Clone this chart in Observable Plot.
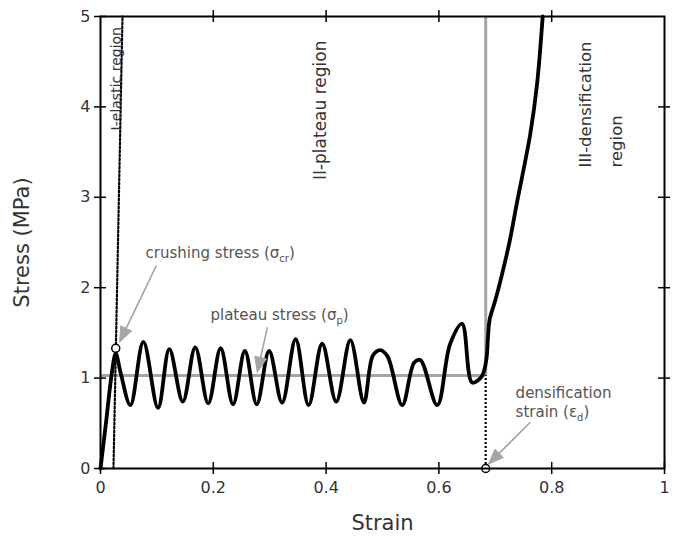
<!DOCTYPE html>
<html><head><meta charset="utf-8">
<script src="https://cdn.jsdelivr.net/npm/d3@7"></script>
<script src="https://cdn.jsdelivr.net/npm/@observablehq/plot@0.6"></script>
<style>body{margin:0;background:#fff}</style>
</head><body><div id="chart"></div>
<script>
// ---- data ----
const strain = [0.000, 0.010, 0.020, 0.027, 0.036, 0.053, 0.076, 0.102, 0.122, 0.146, 0.168, 0.191, 0.213, 0.235, 0.256, 0.277, 0.299, 0.322, 0.346, 0.369, 0.393, 0.418, 0.443, 0.467, 0.483, 0.496, 0.509, 0.535, 0.556, 0.567, 0.597, 0.620, 0.641, 0.659, 0.676, 0.684, 0.687, 0.690, 0.700, 0.712, 0.725, 0.739, 0.762, 0.774, 0.784];
const stress = [0.00, 0.52, 1.05, 1.27, 1.05, 0.70, 1.40, 0.67, 1.32, 0.74, 1.34, 0.72, 1.33, 0.71, 1.30, 0.71, 1.30, 0.73, 1.43, 0.70, 1.38, 0.74, 1.42, 0.73, 1.25, 1.31, 1.24, 0.70, 1.17, 1.20, 0.70, 1.38, 1.60, 0.95, 1.02, 1.20, 1.45, 1.65, 1.86, 2.15, 2.50, 2.96, 3.70, 4.25, 5.00];
const xTicks = [0, 0.2, 0.4, 0.6, 0.8, 1];
const yTicks = [0, 1, 2, 3, 4, 5];
const topTicks = [0.2, 0.4, 0.6, 0.8];
const rightTicks = [1, 2, 3, 4];
const plateauStress = 1.03;
const densStrain = 0.683;
const elasticStrain = [0.023, 0.039];
const elasticStress = [0, 5];
const markerStrain = [0.027, 0.683];
const markerStress = [1.33, 0];
const regionText = ["I-elastic region", "II-plateau region", "III-densification\nregion"];
const regionStrain = [0.021, 0.381, 0.879];
const regionStress = [3.74, 3.19, 3.33];
const noteText = ["crushing stress (σ_cr)", "plateau stress (σ_p)", "densification\nstrain (ε_d)"];
const noteStrain = [0.080, 0.195, 0.736];
const noteStress = [2.39, 1.71, 0.74];
const arrowFromStrain = [0.099, 0.296, 0.762];
const arrowFromStress = [2.245, 1.563, 0.512];
const arrowToStrain = [0.034, 0.278, 0.688];
const arrowToStress = [1.40, 1.065, 0.05];

// ---- layout ----
const W = 677, H = 540, mL = 100, mR = 13, mT = 16, mB = 72;
const kx = (W - mL - mR) / 1, ky = (H - mT - mB) / 5;
const gray = "#a5a5a5";
const regionSizes = [14, 17, 16.5];

const curve = strain.map((s, i) => ({strain: s, stress: stress[i]}));
const elastic = elasticStrain.map((s, i) => ({strain: s, stress: elasticStress[i]}));
const markers = markerStrain.map((s, i) => ({strain: s, stress: markerStress[i]}));
const regions = regionText.map((t, i) => ({text: t, strain: regionStrain[i], stress: regionStress[i]}));
const notes = noteText.map((t, i) => ({text: t, strain: noteStrain[i], stress: noteStress[i]}));

const shafts = [], heads = [];
arrowFromStrain.forEach((x1, i) => {
  const y1 = arrowFromStress[i], x2 = arrowToStrain[i], y2 = arrowToStress[i];
  const dx = (x2 - x1) * kx, dy = -(y2 - y1) * ky;
  const len = Math.hypot(dx, dy), ux = dx / len, uy = dy / len;
  const L = 15, hw = 6;
  const bx = -ux * L, by = -uy * L;
  const toData = (px, py) => ({strain: x2 + px / kx, stress: y2 - py / ky, id: i});
  const base = toData(bx, by);
  shafts.push({x1, y1, x2: base.strain, y2: base.stress});
  heads.push(toData(0, 0), toData(bx - uy * hw, by + ux * hw), toData(bx + uy * hw, by - ux * hw), toData(0, 0));
});

const plot = Plot.plot({
  width: W, height: H,
  marginLeft: mL, marginRight: mR, marginTop: mT, marginBottom: mB,
  style: {fontFamily: "'DejaVu Sans', sans-serif", fontSize: "16px", color: "#333", background: "#fff"},
  x: {domain: [0, 1], ticks: xTicks, tickFormat: d => String(d), tickSize: 0, tickPadding: 13, label: null},
  y: {domain: [0, 5], ticks: yTicks, tickFormat: d => String(d), tickSize: 0, tickPadding: 10, label: null},
  marks: [
    Plot.ruleY([plateauStress], {x1: 0, x2: densStrain, stroke: gray, strokeWidth: 3}),
    Plot.ruleX([densStrain], {y1: plateauStress, y2: 5, stroke: gray, strokeWidth: 3}),
    Plot.ruleX([densStrain], {y1: 0, y2: plateauStress, stroke: "#000", strokeWidth: 2.2, strokeDasharray: "2,2"}),
    Plot.line(elastic, {x: "strain", y: "stress", stroke: "#000", strokeWidth: 2.2, strokeDasharray: "2,2"}),
    Plot.line(curve, {x: "strain", y: "stress", curve: "catmull-rom", stroke: "#000", strokeWidth: 3.8}),
    Plot.link(shafts, {x1: "x1", y1: "y1", x2: "x2", y2: "y2", stroke: gray, strokeWidth: 1.6}),
    Plot.line(heads, {x: "strain", y: "stress", z: "id", fill: gray, stroke: gray, strokeWidth: 1}),
    Plot.dot(markers, {x: "strain", y: "stress", r: 4, fill: "#fff", stroke: "#000", strokeWidth: 1.5}),
    Plot.frame({stroke: "#000", strokeWidth: 2}),
    Plot.ruleX(xTicks, {x: d => d, y1: 0, y2: 0, insetTop: 6, insetBottom: 6, stroke: "#000", strokeWidth: 1.5}),
    Plot.ruleX(topTicks, {x: d => d, y1: 5, y2: 5, insetTop: 6, insetBottom: 6, stroke: "#000", strokeWidth: 1.5}),
    Plot.ruleY(yTicks, {y: d => d, x1: 0, x2: 0, insetLeft: 6, insetRight: 6, stroke: "#000", strokeWidth: 1.5}),
    Plot.ruleY(rightTicks, {y: d => d, x1: 1, x2: 1, insetLeft: 6, insetRight: 6, stroke: "#000", strokeWidth: 1.5}),
    ...regions.map((r, i) => Plot.text([r], {x: "strain", y: "stress", text: "text", rotate: -90, textAnchor: "start", fontSize: regionSizes[i], lineHeight: 1.9, fill: "#333"})),
    Plot.text(notes, {x: "strain", y: "stress", text: "text", textAnchor: "start", fontSize: 15, lineHeight: 1.25, fill: "#555"}),
    Plot.text(["Strain"], {text: d => d, frameAnchor: "bottom", lineAnchor: "middle", dy: 55, fontSize: 21, fill: "#333"}),
    Plot.text(["Stress (MPa)"], {text: d => d, frameAnchor: "left", textAnchor: "middle", lineAnchor: "middle", dx: -78, rotate: -90, fontSize: 21, fill: "#333"})
  ]
});

// subscripts: "_xx" -> lowered small tspan
plot.querySelectorAll("text, tspan").forEach(el => {
  if (el.childNodes.length !== 1 || el.firstChild.nodeType !== 3) return;
  const s = el.textContent;
  const m = s.match(/^(.*)_(\w+)(.*)$/);
  if (!m) return;
  const ns = "http://www.w3.org/2000/svg";
  el.textContent = "";
  el.appendChild(document.createTextNode(m[1]));
  const sub = document.createElementNS(ns, "tspan");
  sub.setAttribute("dy", "4"); sub.setAttribute("font-size", "10");
  sub.textContent = m[2];
  el.appendChild(sub);
  const rest = document.createElementNS(ns, "tspan");
  rest.setAttribute("dy", "-4");
  rest.textContent = m[3];
  el.appendChild(rest);
});

document.getElementById("chart").appendChild(plot);
</script>
</body></html>
